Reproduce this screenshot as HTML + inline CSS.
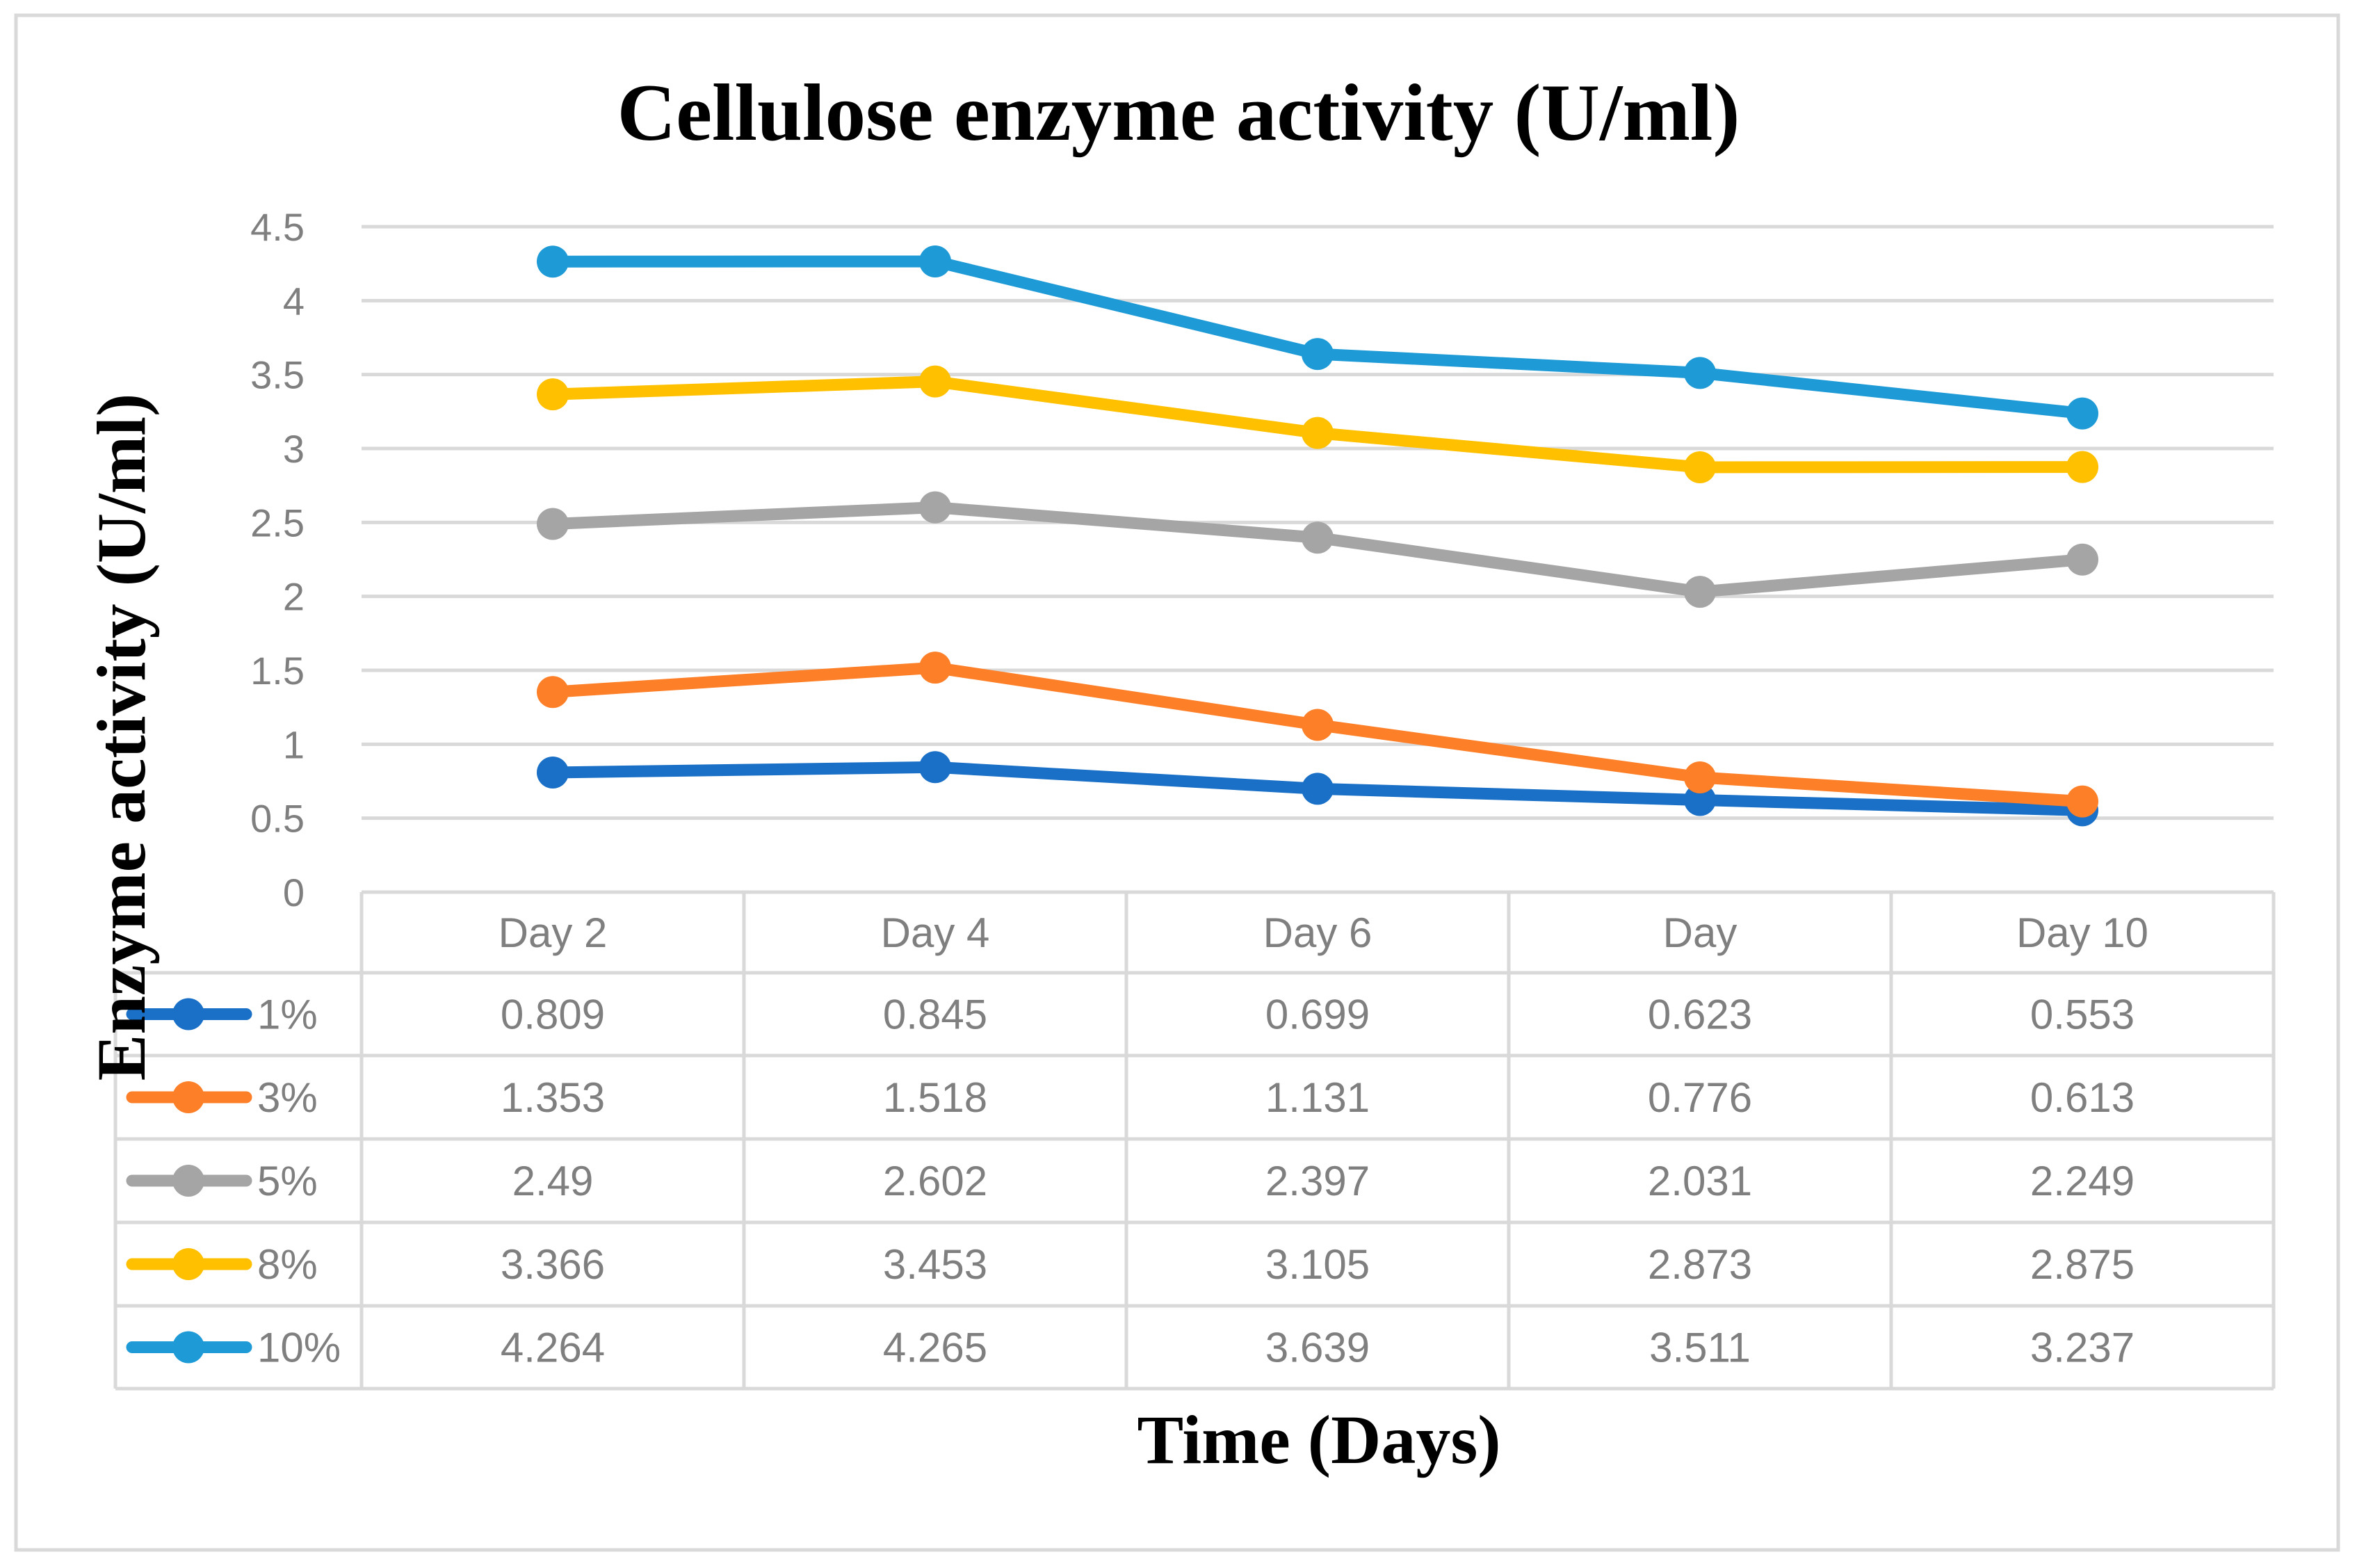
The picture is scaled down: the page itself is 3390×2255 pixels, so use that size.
<!DOCTYPE html>
<html><head><meta charset="utf-8"><style>
html,body{margin:0;padding:0;background:#fff;}
svg{display:block;}
</style></head><body>
<svg id="chart" width="3390" height="2255" viewBox="0 0 3390 2255" xmlns="http://www.w3.org/2000/svg">
<rect x="23" y="22" width="3340" height="2207" fill="#fff" stroke="#d9d9d9" stroke-width="5"/>
<text x="1695" y="201" text-anchor="middle" font-family="Liberation Serif, serif" font-weight="bold" font-size="117" fill="#000">Cellulose enzyme activity (U/ml)</text>
<g id="grid"></g>
<g id="table"></g>
<g id="series"></g>
<text transform="translate(208,1060) rotate(-90)" text-anchor="middle" font-family="Liberation Serif, serif" font-weight="bold" font-size="100" fill="#000">Enzyme activity (U/ml)</text>
<text x="1897" y="2104" text-anchor="middle" font-family="Liberation Serif, serif" font-weight="bold" font-size="100" fill="#000">Time (Days)</text>
</svg>
<script>
const categories = ["Day 2","Day 4","Day 6","Day","Day 10"];
const seriesNames = ["1%","3%","5%","8%","10%"];
const s1 = [0.809,0.845,0.699,0.623,0.553];
const s3 = [1.353,1.518,1.131,0.776,0.613];
const s5 = [2.49,2.602,2.397,2.031,2.249];
const s8 = [3.366,3.453,3.105,2.873,2.875];
const s10 = [4.264,4.265,3.639,3.511,3.237];
const yTicks = [0,0.5,1,1.5,2,2.5,3,3.5,4,4.5];
const yTickLabels = ["0","0.5","1","1.5","2","2.5","3","3.5","4","4.5"];
const colors = ["#1a70c6","#fd7f28","#a5a5a5","#ffc000","#1e9ad6"];
const allSeries = [s1,s3,s5,s8,s10];

const NS="http://www.w3.org/2000/svg";
const plotL=520, colW=550, plotR=plotL+colW*categories.length;
const y0=1283, yTop=326, yMax=4.5;
function yScale(v){return y0-(v/yMax)*(y0-yTop);}
function xScale(i){return plotL+colW*(i+0.5);}
function mk(tag,attrs,parent){const e=document.createElementNS(NS,tag);for(const k in attrs)e.setAttribute(k,attrs[k]);parent.appendChild(e);return e;}

const grid=document.getElementById('grid');
yTicks.forEach((t,i)=>{
  if(t>0){
    const l=mk('line',{x1:plotL,x2:plotR,y1:yScale(t),y2:yScale(t),stroke:'#d9d9d9','stroke-width':5},grid);
    
    
  }
  const tx=mk('text',{x:438,y:yScale(t)+20,'text-anchor':'end','font-family':'Liberation Sans, sans-serif','font-size':56,fill:'#7f7f7f'},grid);
  tx.textContent=yTickLabels[i];
  
  
});

const tbl=document.getElementById('table');
const rowY=[1283,1399,1518,1638,1758,1878,1997];
const tl={stroke:'#d9d9d9','stroke-width':5};
rowY.forEach((y,i)=>{
  const l=mk('line',Object.assign({x1:i==0?plotL:166,x2:plotR,y1:y,y2:y},tl),tbl);
  
  
});
const vl0=mk('line',Object.assign({x1:166,x2:166,y1:rowY[1],y2:rowY[6]},tl),tbl);


for(let i=0;i<=categories.length;i++){
  const x=plotL+colW*i;
  const l=mk('line',Object.assign({x1:x,x2:x,y1:rowY[0],y2:rowY[6]},tl),tbl);
  
  
}
categories.forEach((c,i)=>{
  const t=mk('text',{x:xScale(i),y:(rowY[0]+rowY[1])/2+21,'text-anchor':'middle','font-family':'Liberation Sans, sans-serif','font-size':60,fill:'#7f7f7f'},tbl);
  t.textContent=c;
  
  
});
allSeries.forEach((s,r)=>{
  const cy=(rowY[r+1]+rowY[r+2])/2;
  const ll=mk('line',{x1:190,x2:354,y1:cy,y2:cy,stroke:colors[r],'stroke-width':17,'stroke-linecap':'round'},tbl);
  
  
  const lc=mk('circle',{cx:271,cy:cy,r:23,fill:colors[r]},tbl);
  
  
  const lt=mk('text',{x:370,y:cy+21,'font-family':'Liberation Sans, sans-serif','font-size':60,fill:'#7f7f7f'},tbl);
  lt.textContent=seriesNames[r];
  
  
  s.forEach((v,i)=>{
    const t=mk('text',{x:xScale(i),y:cy+21,'text-anchor':'middle','font-family':'Liberation Sans, sans-serif','font-size':60,fill:'#7f7f7f'},tbl);
    t.textContent=String(v);
    
    
  });
});

const sg=document.getElementById('series');
allSeries.forEach((s,r)=>{
  const g=mk('g',{},sg);
  
  
  const pts=s.map((v,i)=>xScale(i)+','+yScale(v)).join(' ');
  const pl=mk('polyline',{points:pts,fill:'none',stroke:colors[r],'stroke-width':17,'stroke-linejoin':'round','stroke-linecap':'round'},g);
  
  
  s.forEach((v,i)=>{
    const c=mk('circle',{cx:xScale(i),cy:yScale(v),r:23,fill:colors[r]},g);
    
    
  });
});
</script>
</body></html>
